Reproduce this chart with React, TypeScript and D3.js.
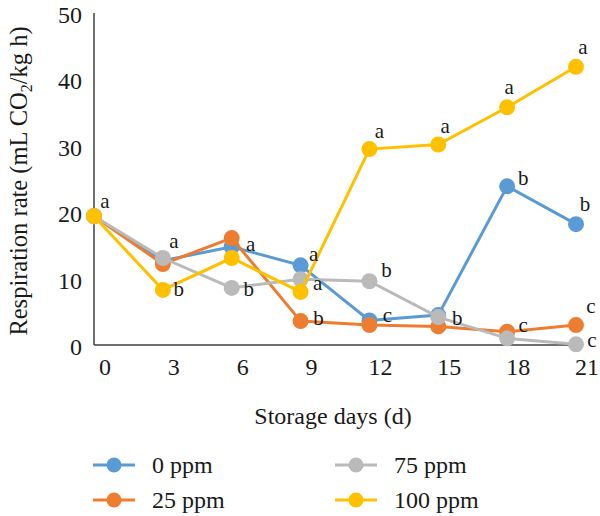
import React from "react";
import * as d3 from "d3";

// storage days on the x axis
const days = [0, 3, 6, 9, 12, 15, 18, 21];
const yTicks = [0, 10, 20, 30, 40, 50];

const seriesNames = ["0 ppm", "25 ppm", "75 ppm", "100 ppm"];
const seriesColors = ["#5B9BD5", "#ED7D31", "#BABABA", "#FFC000"];

// respiration rate, mL CO2/kg h
const ppm0 = [19.4, 12.7, 14.8, 12.0, 3.7, 4.5, 23.9, 18.2];
const ppm25 = [19.4, 12.2, 16.1, 3.6, 3.0, 2.8, 2.0, 3.0];
const ppm75 = [19.4, 13.1, 8.6, 9.9, 9.6, 4.2, 1.0, 0.1];
const ppm100 = [19.4, 8.3, 13.1, 8.0, 29.5, 30.2, 35.8, 41.9];

// significance letters for each day ("" = none drawn)
const letters0 = ["", "", "", "a", "c", "", "b", "b"];
const letters25 = ["", "", "a", "b", "", "", "c", "c"];
const letters75 = ["", "a", "b", "a", "b", "b", "", "c"];
const letters100 = ["a", "b", "", "", "a", "a", "a", "a"];

// where each letter sits relative to its point
const offsets0 = [null, null, null, [13, -10], [18, -4], null, [16, -4], [9, -16]];
const offsets25 = [null, null, [19, 7], [18, 1], null, null, [16, -6], [15, -18]];
const offsets75 = [null, [11, -16], [17, 5], [17, 5], [17, -7], [19, 5], null, [16, -3]];
const offsets100 = [[11, -14], [16, 3], null, null, [10, -17], [7, -17], [2, -19], [7, -19]];

const seriesValues = [ppm0, ppm25, ppm75, ppm100];
const seriesLetters = [letters0, letters25, letters75, letters100];
const seriesOffsets = [offsets0, offsets25, offsets75, offsets100];

const FONT = "'Liberation Serif', 'Times New Roman', serif";

export default function App() {
  const x = d3.scalePoint<number>().domain(days).range([94, 576]);
  const y = d3.scaleLinear().domain([0, 50]).range([345, 13]);

  const line = d3
    .line<number>()
    .x((_, i) => x(days[i]) as number)
    .y((v) => y(v));

  return (
    <svg
      width={600}
      height={516}
      style={{ position: "absolute", left: 0, top: 0, background: "#fff" }}
      fontFamily={FONT}
    >
      {/* axes */}
      <line x1={94} x2={94} y1={y(50)} y2={y(0)} stroke="#404040" strokeWidth={1.5} />
      <line x1={94} x2={578} y1={y(0)} y2={y(0)} stroke="#404040" strokeWidth={1.5} />

      {yTicks.map((t) => (
        <text key={t} x={82} y={y(t) + 10} textAnchor="end" fontSize={24} fill="#1a1a1a">
          {t}
        </text>
      ))}
      {days.map((d) => (
        <text key={d} x={(x(d) as number) + 11} y={375} textAnchor="middle" fontSize={24} fill="#1a1a1a">
          {d}
        </text>
      ))}

      <text x={333} y={424} textAnchor="middle" fontSize={24} fill="#1a1a1a">
        Storage days (d)
      </text>
      <text
        transform="translate(27,181) rotate(-90)"
        textAnchor="middle"
        fontSize={24.5}
        fill="#1a1a1a"
      >
        Respiration rate (mL CO
        <tspan fontSize={16} dy={5}>2</tspan>
        <tspan dy={-5}>/kg h)</tspan>
      </text>

      {/* series */}
      {seriesValues.map((vals, s) => (
        <g key={s}>
          <path d={line(vals) as string} fill="none" stroke={seriesColors[s]} strokeWidth={3} />
          {vals.map((v, i) => (
            <circle key={i} cx={x(days[i]) as number} cy={y(v)} r={8} fill={seriesColors[s]} />
          ))}
        </g>
      ))}

      {/* letters */}
      {seriesValues.map((vals, s) =>
        vals.map((v, i) => {
          const letter = seriesLetters[s][i];
          const off = seriesOffsets[s][i];
          if (!letter || !off) return null;
          return (
            <text
              key={`${s}-${i}`}
              x={(x(days[i]) as number) + off[0]}
              y={y(v) + off[1] + (letter === "b" ? 3 : 6)}
              textAnchor="middle"
              fontSize={21}
              fill="#1a1a1a"
            >
              {letter}
            </text>
          );
        })
      )}

      {/* legend */}
      {seriesNames.map((name, s) => {
        const lx = s < 2 ? 93 : 335;
        const ly = s % 2 === 0 ? 465 : 500;
        return (
          <g key={name}>
            <line x1={lx} x2={lx + 42} y1={ly} y2={ly} stroke={seriesColors[s]} strokeWidth={3} />
            <circle cx={lx + 21} cy={ly} r={7.5} fill={seriesColors[s]} />
            <text x={lx + 59} y={ly + 8} fontSize={24} fill="#1a1a1a">
              {name}
            </text>
          </g>
        );
      })}
    </svg>
  );
}
